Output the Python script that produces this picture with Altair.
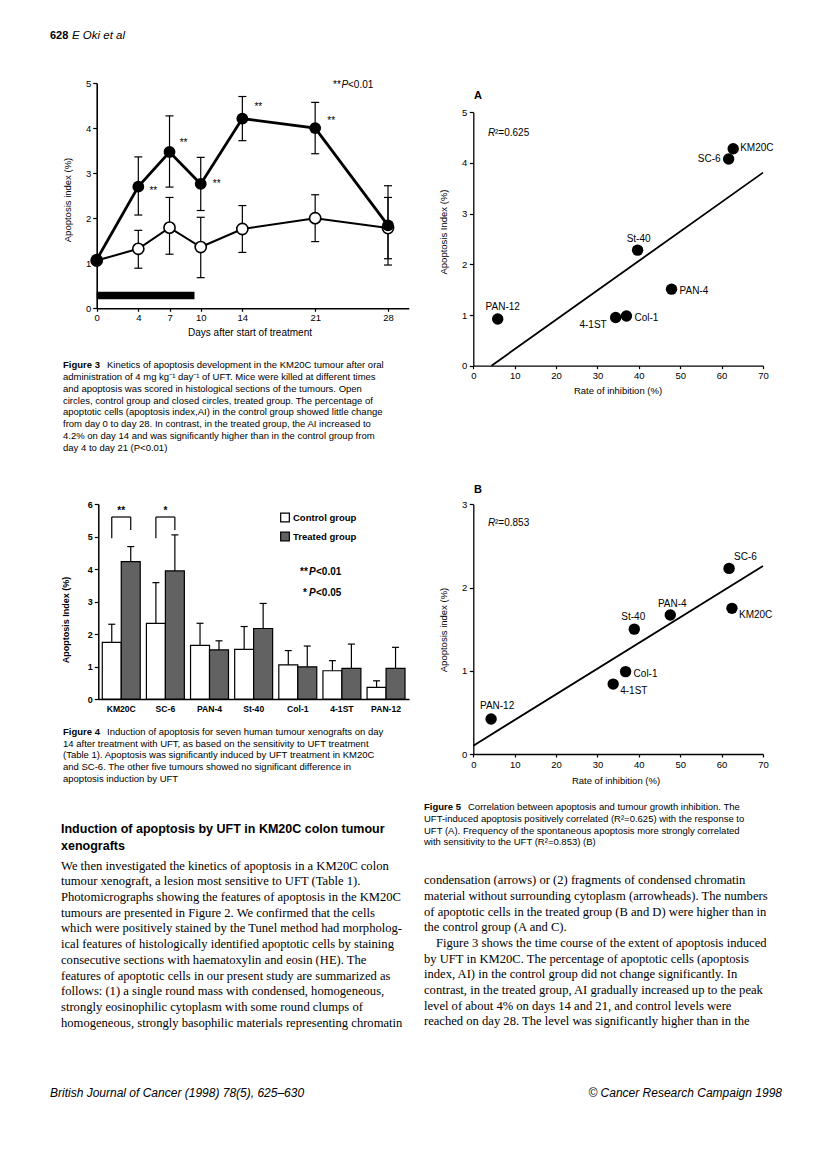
import altair as alt
import pandas as pd

SANS = "Liberation Sans"
SERIF = "Liberation Serif"
PAGE_W, PAGE_H, MARGIN = 816, 1151, 8
W, H = PAGE_W - 2 * MARGIN, PAGE_H - 2 * MARGIN

# ---------------- Figure 3 data ----------------
f3_days = [0, 4, 7, 10, 14, 21, 28]
f3_treated = [1.08, 2.70, 3.47, 2.76, 4.21, 4.00, 1.84]
f3_treated_lo = [None, 2.07, 2.69, 2.17, 3.72, 3.43, 0.96]
f3_treated_hi = [None, 3.36, 4.27, 3.35, 4.70, 4.57, 2.72]
f3_control = [1.06, 1.32, 1.79, 1.36, 1.76, 2.00, 1.78]
f3_control_lo = [None, 0.89, 1.20, 0.68, 1.24, 1.48, 1.10]
f3_control_hi = [None, 1.73, 2.46, 2.02, 2.28, 2.52, 2.46]
f3_sig_days = [4, 7, 10, 14, 21]
f3_x_ticks = [0, 4, 7, 10, 14, 21, 28]
f3_y_ticks = [0, 1, 2, 3, 4, 5]
f3_treat_days = [0, 9.4]
f3_treat_band = [0.20, 0.37]

# ---------------- Figure 4 data ----------------
f4_tumours = ["KM20C", "SC-6", "PAN-4", "St-40", "Col-1", "4-1ST", "PAN-12"]
f4_groups = ["Control group", "Treated group"]
f4_control = [1.74, 2.33, 1.65, 1.53, 1.05, 0.87, 0.36]
f4_control_err = [2.30, 3.58, 2.33, 2.23, 1.49, 1.18, 0.56]
f4_treated = [4.23, 3.94, 1.51, 2.17, 0.99, 0.94, 0.94]
f4_treated_err = [4.69, 5.05, 1.79, 2.94, 1.63, 1.69, 1.59]
f4_sig_tumours = ["KM20C", "SC-6"]
f4_sig_marks = ["**", "*"]
f4_bracket_legs = [4.95, 5.20]
f4_bracket_top = 5.60
f4_star_level = 5.78
f4_y_ticks = [0, 1, 2, 3, 4, 5, 6]

# ---------------- Figure 5 data ----------------
f5_tumours = ["PAN-12", "4-1ST", "Col-1", "St-40", "PAN-4", "SC-6", "KM20C"]
f5a_inhib = [5.9, 34.4, 37.0, 39.7, 47.9, 61.7, 62.8]
f5a_ai = [0.92, 0.95, 0.98, 2.28, 1.51, 4.08, 4.28]
f5a_fit_x = [4.4, 70]
f5a_fit_y = [0.0, 3.81]
f5b_inhib = [4.3, 33.8, 36.8, 38.9, 47.6, 61.8, 62.5]
f5b_ai = [0.42, 0.84, 0.99, 1.50, 1.67, 2.23, 1.75]
f5b_fit_x = [0, 70]
f5b_fit_y = [0.10, 2.26]
f5_x_ticks = [0, 10, 20, 30, 40, 50, 60, 70]

# ---------------- page text ----------------
fig3_caption_first = "Kinetics of apoptosis development in the KM20C tumour after oral"
fig3_caption = [
    "administration of 4 mg kg\u207b\u00b9 day\u207b\u00b9 of UFT. Mice were killed at different times",
    "and apoptosis was scored in histological sections of the tumours. Open",
    "circles, control group and closed circles, treated group. The percentage of",
    "apoptotic cells (apoptosis index,AI) in the control group showed little change",
    "from day 0 to day 28. In contrast, in the treated group, the AI increased to",
    "4.2% on day 14 and was significantly higher than in the control group from",
    "day 4 to day 21 (P<0.01)",
]
fig4_caption_first = "Induction of apoptosis for seven human tumour xenografts on day"
fig4_caption = [
    "14 after treatment with UFT, as based on the sensitivity to UFT treatment",
    "(Table 1). Apoptosis was significantly induced by UFT treatment in KM20C",
    "and SC-6. The other five tumours showed no significant difference in",
    "apoptosis induction by UFT",
]
fig5_caption_first = "Correlation between apoptosis and tumour growth inhibition. The"
fig5_caption = [
    "UFT-induced apoptosis positively correlated (R\u00b2=0.625) with the response to",
    "UFT (A). Frequency of the spontaneous apoptosis more strongly correlated",
    "with sensitivity to the UFT (R\u00b2=0.853) (B)",
]
heading = ["Induction of apoptosis by UFT in KM20C colon tumour", "xenografts"]
body_left = [
    "We then investigated the kinetics of apoptosis in a KM20C colon",
    "tumour xenograft, a lesion most sensitive to UFT (Table 1).",
    "Photomicrographs showing the features of apoptosis in the KM20C",
    "tumours are presented in Figure 2. We confirmed that the cells",
    "which were positively stained by the Tunel method had morpholog-",
    "ical features of histologically identified apoptotic cells by staining",
    "consecutive sections with haematoxylin and eosin (HE). The",
    "features of apoptotic cells in our present study are summarized as",
    "follows: (1) a single round mass with condensed, homogeneous,",
    "strongly eosinophilic cytoplasm with some round clumps of",
    "homogeneous, strongly basophilic materials representing chromatin",
]
body_right = [
    "condensation (arrows) or (2) fragments of condensed chromatin",
    "material without surrounding cytoplasm (arrowheads). The numbers",
    "of apoptotic cells in the treated group (B and D) were higher than in",
    "the control group (A and C).",
    "Figure 3 shows the time course of the extent of apoptosis induced",
    "by UFT in KM20C. The percentage of apoptotic cells (apoptosis",
    "index, AI) in the control group did not change significantly. In",
    "contrast, in the treated group, AI gradually increased up to the peak",
    "level of about 4% on days 14 and 21, and control levels were",
    "reached on day 28. The level was significantly higher than in the",
]


def px(v):
    """page pixel -> chart pixel"""
    return round(v - MARGIN, 2)


ONE = alt.Data(values=[{"k": 0}])


def label(s, x, y, size=10, font=SANS, weight="normal", style="normal",
          align="left", baseline="middle", angle=None):
    kw = dict(font=font, fontSize=size, fontWeight=weight, fontStyle=style,
              align=align, baseline=baseline, color="black")
    if angle is not None:
        kw["angle"] = angle
    return alt.Chart(ONE).mark_text(**kw).encode(
        x=alt.value(px(x)), y=alt.value(px(y)), text=alt.value(s))


def block(lines, x, y_first, size, lh, font=SANS, weight="normal", style="normal"):
    return alt.Chart(ONE).mark_text(
        font=font, fontSize=size, fontWeight=weight, fontStyle=style,
        align="left", baseline="top", lineHeight=lh, color="black").encode(
        x=alt.value(px(x)), y=alt.value(px(y_first - 0.5 * size)),
        text=alt.value(lines))


def axis(orient, pos, values=None, size=9.5, weight="normal", tick=4, pad=2,
         dw=1.3, ticks=True):
    off = px(pos) - H if orient == "bottom" else -px(pos)
    kw = dict(orient=orient, offset=off, title=None, grid=False,
              labelFont=SANS, labelFontSize=size, labelFontWeight=weight,
              labelColor="black", domainColor="black", domainWidth=dw,
              ticks=ticks, tickColor="black", tickWidth=1.2, tickSize=tick,
              labelPadding=pad, labelAngle=0, labelFlush=False,
              labelOverlap=False)
    if values is not None:
        kw["values"] = values
    return alt.Axis(**kw)


# ================= Figure 3 =================
f3_df = pd.DataFrame({
    "day": f3_days * 2,
    "group": ["Treated"] * len(f3_days) + ["Control"] * len(f3_days),
    "ai": f3_treated + f3_control,
    "lo": f3_treated_lo + f3_control_lo,
    "hi": f3_treated_hi + f3_control_hi,
})
f3_bar = pd.DataFrame({"start": [f3_treat_days[0]], "end": [f3_treat_days[1]],
                       "lo": [f3_treat_band[0]], "hi": [f3_treat_band[1]]})
f3xs = alt.Scale(domain=[0, 30], range=[px(96.7), px(408.8)], nice=False, zero=False)
f3ys = alt.Scale(domain=[0, 5], range=[px(308.3), px(83)], nice=False, zero=False)
f3xa = axis("bottom", 308.3, f3_x_ticks, tick=3, pad=1, dw=1.6)
f3ya = axis("left", 96.7, f3_y_ticks, tick=4, pad=2, dw=1.6)


def X3(f):
    return alt.X(f, scale=f3xs, axis=f3xa)


def Y3(f):
    return alt.Y(f, scale=f3ys, axis=f3ya)


f3_layers = [
    alt.Chart(f3_bar).mark_rect(color="black").encode(
        x=X3("start:Q"), x2="end:Q", y=Y3("lo:Q"), y2="hi:Q")
]
for grp in ["Control", "Treated"]:
    b = alt.Chart(f3_df).transform_filter(alt.datum.group == grp)
    be = b.transform_filter("isValid(datum.lo)")
    f3_layers.append(be.mark_rule(color="black", strokeWidth=1.2).encode(
        x=X3("day:Q"), y=Y3("lo:Q"), y2="hi:Q"))
    for f in ["lo", "hi"]:
        f3_layers.append(be.mark_tick(orient="horizontal", size=8, thickness=1.2,
                                      color="black", opacity=1).encode(
            x=X3("day:Q"), y=Y3(f + ":Q")))
for grp in ["Control", "Treated"]:
    b = alt.Chart(f3_df).transform_filter(alt.datum.group == grp)
    f3_layers.append(b.mark_line(color="black",
                                 strokeWidth=2.0 if grp == "Control" else 2.8).encode(
        x=X3("day:Q"), y=Y3("ai:Q")))
    if grp == "Control":
        f3_layers.append(b.mark_point(shape="circle", filled=True, fill="white",
                                      stroke="black", strokeWidth=1.6, size=125,
                                      opacity=1).encode(x=X3("day:Q"), y=Y3("ai:Q")))
    else:
        f3_layers.append(b.mark_circle(color="black", size=140, opacity=1).encode(
            x=X3("day:Q"), y=Y3("ai:Q")))

f3_star_offsets = {4: (15, 4), 7: (14, -9), 10: (16, 0), 14: (16, -12), 21: (16, -7)}
for d in f3_sig_days:
    dx, dy = f3_star_offsets[d]
    f3_layers.append(
        alt.Chart(f3_df)
        .transform_filter((alt.datum.group == "Treated") & (alt.datum.day == d))
        .mark_text(text="**", font=SANS, fontSize=10, dx=dx, dy=dy, color="black")
        .encode(x=X3("day:Q"), y=Y3("ai:Q")))
fig3 = alt.layer(*f3_layers)

# ================= Figure 4 =================
f4_df = pd.DataFrame({
    "tumour": f4_tumours * 2,
    "group": [f4_groups[0]] * len(f4_tumours) + [f4_groups[1]] * len(f4_tumours),
    "ai": f4_control + f4_treated,
    "err": f4_control_err + f4_treated_err,
})
f4_br = pd.DataFrame({
    "tumour": [t for t in f4_sig_tumours for _ in f4_groups],
    "group": f4_groups * len(f4_sig_tumours),
    "leg": f4_bracket_legs * len(f4_sig_tumours),
    "top": [f4_bracket_top] * (2 * len(f4_sig_tumours)),
})
f4_st = pd.DataFrame({"tumour": f4_sig_tumours, "mark": f4_sig_marks,
                      "top": [f4_bracket_top] * len(f4_sig_tumours),
                      "lvl": [f4_star_level] * len(f4_sig_tumours)})
f4xs = alt.Scale(domain=f4_tumours, range=[px(98.3), px(409)],
                 paddingInner=0.14, paddingOuter=0.09)
f4ys = alt.Scale(domain=[0, 6], range=[px(699), px(504)], nice=False, zero=False)
f4xa = axis("bottom", 699, None, size=8.6, weight="bold", tick=0, pad=5,
            dw=1.5, ticks=False)
f4ya = axis("left", 98.3, f4_y_ticks, size=9, weight="bold", tick=4, pad=2, dw=1.5)
X4 = alt.X("tumour:N", scale=f4xs, axis=f4xa, sort=f4_tumours)
XO = alt.XOffset("group:N", scale=alt.Scale(domain=f4_groups, paddingInner=0,
                                            paddingOuter=0))


def Y4(f):
    return alt.Y(f, scale=f4ys, axis=f4ya)


f4_bars = alt.Chart(f4_df).mark_bar(stroke="black", strokeWidth=1.2, opacity=1).encode(
    x=X4, xOffset=XO, y=Y4("ai:Q"),
    fill=alt.Fill("group:N", scale=alt.Scale(domain=f4_groups,
                                              range=["#ffffff", "#626262"]),
                  legend=alt.Legend(orient="none", legendX=px(280), legendY=px(512.5),
                                    title=None, symbolType="square", symbolSize=75,
                                    symbolStrokeColor="black", symbolStrokeWidth=1.2,
                                    labelFont=SANS, labelFontSize=9.5,
                                    labelFontWeight="bold", labelColor="black",
                                    rowPadding=5, labelOffset=3, padding=0)))
f4_err = alt.Chart(f4_df).mark_rule(color="black", strokeWidth=1.2).encode(
    x=X4, xOffset=XO, y=Y4("ai:Q"), y2="err:Q")
f4_cap = alt.Chart(f4_df).mark_tick(orient="horizontal", size=7, thickness=1.2,
                                    color="black", opacity=1).encode(
    x=X4, xOffset=XO, y=Y4("err:Q"))
f4_legs = alt.Chart(f4_br).mark_rule(color="black", strokeWidth=1.2).encode(
    x=X4, xOffset=XO, y=Y4("leg:Q"), y2="top:Q")
f4_tops = alt.Chart(f4_st).mark_tick(orient="horizontal", size=19, thickness=1.2,
                                     color="black", opacity=1).encode(
    x=X4, y=Y4("top:Q"))
f4_stars = alt.Chart(f4_st).mark_text(font=SANS, fontSize=10, fontWeight="bold",
                                      color="black").encode(
    x=X4, y=Y4("lvl:Q"), text="mark:N")
fig4 = alt.layer(f4_bars, f4_err, f4_cap, f4_legs, f4_tops, f4_stars)


# ================= Figure 5 =================
def fig5(inhib, ai, fit_x, fit_y, y_dom, y_top, y_bot, y_ticks, placements):
    df = pd.DataFrame({"tumour": f5_tumours, "inhib": inhib, "ai": ai})
    fit = pd.DataFrame({"inhib": fit_x, "ai": fit_y})
    xs = alt.Scale(domain=[0, 70], range=[px(473.3), px(763)], nice=False, zero=False)
    ys = alt.Scale(domain=y_dom, range=[px(y_bot), px(y_top)], nice=False, zero=False)
    xa = axis("bottom", y_bot, f5_x_ticks, tick=3, pad=2)
    ya = axis("left", 473.3, y_ticks, tick=4, pad=2.5)
    X = alt.X("inhib:Q", scale=xs, axis=xa)
    Y = alt.Y("ai:Q", scale=ys, axis=ya)
    layers = [
        alt.Chart(fit).mark_line(color="black", strokeWidth=1.8).encode(x=X, y=Y),
        alt.Chart(df).mark_circle(color="black", size=130, opacity=1).encode(x=X, y=Y),
    ]
    for name, (a, dx, dy) in placements.items():
        layers.append(
            alt.Chart(df).transform_filter(alt.datum.tumour == name)
            .mark_text(font=SANS, fontSize=10, align=a, baseline="middle",
                       dx=dx, dy=dy, color="black")
            .encode(x=X, y=Y, text="tumour:N"))
    return alt.layer(*layers)


f5a_place = {"PAN-12": ("center", 5, -12), "4-1ST": ("right", -9, 7),
             "Col-1": ("left", 8, 2), "St-40": ("center", 1, -11),
             "PAN-4": ("left", 8, 2), "SC-6": ("right", -8, 0),
             "KM20C": ("left", 7, -1)}
f5b_place = {"PAN-12": ("center", 6, -13), "4-1ST": ("left", 7, 7),
             "Col-1": ("left", 8, 2), "St-40": ("center", -1, -12),
             "PAN-4": ("center", 2, -11), "SC-6": ("left", 5, -11),
             "KM20C": ("left", 7, 7)}
fig5a = fig5(f5a_inhib, f5a_ai, f5a_fit_x, f5a_fit_y, [0, 5], 112.3, 365.7,
             [0, 1, 2, 3, 4, 5], f5a_place)
fig5b = fig5(f5b_inhib, f5b_ai, f5b_fit_x, f5b_fit_y, [0, 3], 504.3, 754,
             [0, 1, 2, 3], f5b_place)

# ================= text =================
CAP = 9.5
CAP_LH = 11.8
CAP_X = 63
BODY = 12.6
BODY_LH = 15.7
texts = [
    # header
    label("628", 50, 36, size=11, weight="bold"),
    label("E Oki et al", 72, 36, size=11.5, style="italic"),
    # figure 3 annotations
    label("**", 333, 85, size=10),
    label("P", 341.5, 85, size=10, style="italic"),
    label("<0.01", 348, 85, size=10),
    label("Apoptosis index (%)", 68, 200, size=9.5, align="center", angle=270),
    label("Days after start of treatment", 250, 333, size=10, align="center"),
    # figure 3 caption
    label("Figure 3", CAP_X, 365, size=CAP, weight="bold"),
    label(fig3_caption_first, CAP_X + 44, 365, size=CAP),
    block(fig3_caption, CAP_X, 365 + CAP_LH, CAP, CAP_LH),
    # figure 4 annotations
    label("Apoptosis Index (%)", 66, 620, size=9, weight="bold", align="center", angle=270),
    label("**", 300, 572, size=10, weight="bold"),
    label("P", 309, 572, size=10, weight="bold", style="italic"),
    label("<0.01", 316, 572, size=10, weight="bold"),
    label("*", 303, 593, size=10, weight="bold"),
    label("P", 309, 593, size=10, weight="bold", style="italic"),
    label("<0.05", 316, 593, size=10, weight="bold"),
    # figure 4 caption
    label("Figure 4", CAP_X, 731.5, size=CAP, weight="bold"),
    label(fig4_caption_first, CAP_X + 44, 731.5, size=CAP),
    block(fig4_caption, CAP_X, 731.5 + CAP_LH, CAP, CAP_LH),
    # figure 5A annotations
    label("A", 474, 96, size=11, weight="bold"),
    label("R", 488, 133, size=10, style="italic"),
    label("\u00b2=0.625", 495, 133, size=10),
    label("Apoptosis Index (%)", 444, 232, size=9.5, align="center", angle=270),
    label("Rate of inhibition (%)", 618, 391, size=9.5, align="center"),
    # figure 5B annotations
    label("B", 474, 490, size=11, weight="bold"),
    label("R", 488, 523, size=10, style="italic"),
    label("\u00b2=0.853", 495, 523, size=10),
    label("Apoptosis index (%)", 444, 630, size=9.5, align="center", angle=270),
    label("Rate of inhibition (%)", 616, 781, size=9.5, align="center"),
    # figure 5 caption
    label("Figure 5", 424, 806.7, size=CAP, weight="bold"),
    label(fig5_caption_first, 424 + 44, 806.7, size=CAP),
    block(fig5_caption, 424, 806.7 + CAP_LH, CAP, CAP_LH),
    # heading + body
    block(heading, 61, 829, 12.5, 17, weight="bold"),
    block(body_left, 61, 866, BODY, BODY_LH, font=SERIF),
    block(body_right[:4], 424, 880.5, BODY, BODY_LH, font=SERIF),
    label(body_right[4], 436, 880.5 + 4 * BODY_LH, size=BODY, font=SERIF),
    block(body_right[5:], 424, 880.5 + 5 * BODY_LH, BODY, BODY_LH, font=SERIF),
    # footer
    label("British Journal of Cancer (1998) 78(5), 625\u2013630", 50, 1093, size=12,
          style="italic"),
    label("\u00a9 Cancer Research Campaign 1998", 782, 1093, size=12, style="italic",
          align="right"),
]

chart = (
    alt.layer(fig3, fig4, fig5a, fig5b, *texts)
    .resolve_scale(x="independent", y="independent")
    .properties(width=W, height=H, padding=0,
                autosize=alt.AutoSizeParams(type="none"), background="white")
    .configure_view(stroke=None)
)

chart.save("out.html", embed_options={"renderer": "svg", "actions": False})
